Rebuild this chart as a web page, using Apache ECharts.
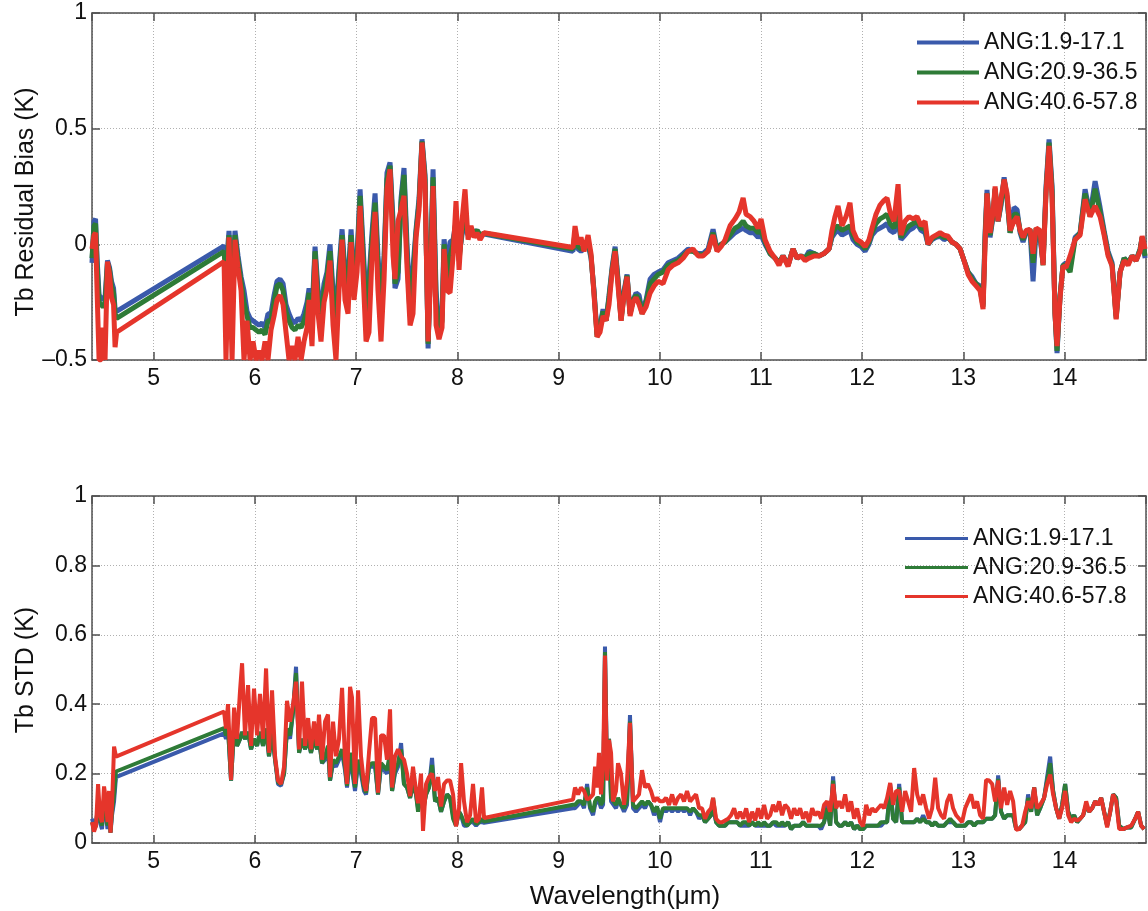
<!DOCTYPE html>
<html>
<head>
<meta charset="utf-8">
<script src="https://cdn.jsdelivr.net/npm/echarts@6/dist/echarts.min.js"></script>
<style>html,body{margin:0;padding:0;background:#fff}#c{width:1148px;height:911px}</style>
</head>
<body>
<div id="c"></div>
<script>
const seriesNames = ['ANG:1.9-17.1', 'ANG:20.9-36.5', 'ANG:40.6-57.8'];
const seriesColors = ['#3a5aab', '#2e7b37', '#e5352b'];
const topYLabel = 'Tb Residual Bias (K)';
const botYLabel = 'Tb STD (K)';
const xLabel = 'Wavelength(\u03bcm)';

// ---------- Top panel: Tb residual bias ----------
const topWl = [
4.390,4.410,4.425,4.440,4.460,4.480,4.499,4.519,4.543,4.563,4.583,4.603,4.618,4.633,
5.695,5.714,5.744,5.774,5.803,5.833,5.863,5.892,5.922,5.952,5.981,6.011,6.041,6.070,6.100,6.129,6.159,6.189,6.218,6.248,
6.278,6.307,6.337,6.367,6.396,6.426,6.456,6.485,6.515,6.535,6.564,6.594,6.624,6.653,6.683,6.712,6.742,6.772,6.801,6.831,
6.861,6.890,6.920,6.950,6.979,7.009,7.039,7.068,7.098,7.127,7.157,7.187,7.216,7.246,7.276,7.305,7.335,7.365,7.384,7.414,
7.444,7.473,7.503,7.533,7.562,7.592,7.622,7.651,7.681,7.711,7.740,7.760,7.790,7.819,7.849,7.869,7.898,7.928,7.958,7.987,
8.017,8.046,8.076,8.106,8.135,8.165,8.195,8.224,8.264,9.143,
9.163,9.193,9.222,9.252,9.292,9.321,9.351,9.381,9.410,9.440,9.470,9.499,9.529,9.559,9.588,9.618,9.648,9.677,9.707,9.737,
9.766,9.796,9.826,9.865,9.905,9.944,9.984,10.033,10.083,10.132,10.181,10.231,10.280,10.329,10.379,10.428,10.478,10.527,10.566,10.606,
10.646,10.695,10.744,10.784,10.824,10.853,10.893,10.932,10.972,11.001,11.041,11.090,11.140,11.179,11.218,11.268,11.317,11.357,11.396,11.436,
11.475,11.525,11.574,11.623,11.673,11.702,11.732,11.762,11.801,11.841,11.880,11.910,11.950,11.989,12.029,12.068,12.098,12.137,12.177,12.216,
12.246,12.276,12.315,12.355,12.384,12.424,12.463,12.503,12.542,12.582,12.622,12.651,12.691,12.730,12.770,12.809,12.849,12.888,12.928,12.968,
13.007,13.047,13.086,13.126,13.165,13.195,13.215,13.234,13.264,13.294,13.314,13.343,13.373,13.403,13.432,13.462,13.501,13.531,13.561,13.590,
13.620,13.659,13.689,13.719,13.758,13.788,13.817,13.847,13.877,13.906,13.926,13.956,13.985,14.015,14.055,14.104,14.154,14.203,14.252,14.302,
14.351,14.391,14.430,14.470,14.510,14.549,14.589,14.628,14.668,14.707,14.747,14.767,14.796
];
const topBlue = [
-0.08,0.10,0.11,-0.06,-0.22,-0.23,-0.24,-0.23,-0.07,-0.10,-0.16,-0.19,-0.28,-0.29,
-0.007,-0.10,0.058,-0.20,0.058,-0.05,-0.14,-0.20,-0.29,-0.32,-0.33,-0.34,-0.35,-0.34,-0.36,-0.30,-0.30,-0.22,-0.16,-0.15,
-0.17,-0.26,-0.30,-0.33,-0.34,-0.32,-0.33,-0.30,-0.25,-0.19,-0.30,-0.01,-0.20,-0.28,-0.17,-0.12,0.00,-0.20,-0.30,-0.10,
0.065,-0.12,-0.15,0.065,-0.15,-0.05,0.238,0.00,-0.25,-0.15,0.05,0.22,-0.05,-0.25,-0.05,0.31,0.354,0.10,-0.19,-0.15,
0.20,0.33,0.00,-0.28,-0.10,0.065,0.20,0.454,0.30,-0.45,0.00,0.324,-0.20,-0.38,-0.30,0.022,-0.10,0.01,0.02,0.10,
-0.05,0.04,0.10,0.04,0.07,0.05,0.06,0.04,0.045,-0.03,
0.04,-0.02,-0.03,-0.02,0.00,-0.06,-0.20,-0.39,-0.35,-0.28,-0.33,-0.22,-0.10,-0.01,-0.15,-0.32,-0.20,-0.13,-0.30,-0.24,
-0.21,-0.22,-0.29,-0.24,-0.15,-0.13,-0.12,-0.11,-0.08,-0.07,-0.06,-0.04,-0.02,-0.03,-0.04,-0.04,-0.02,0.065,-0.02,0.00,
0.01,0.03,0.05,0.06,0.07,0.06,0.05,0.05,0.03,0.04,0.00,-0.04,-0.06,-0.08,-0.05,-0.09,-0.02,-0.06,-0.05,-0.06,
-0.03,-0.04,-0.05,-0.04,-0.02,0.03,0.05,0.06,0.04,0.05,0.06,0.02,0.00,-0.01,-0.03,0.00,0.04,0.06,0.07,0.08,
0.09,0.06,0.05,0.10,0.02,0.04,0.06,0.07,0.09,0.06,0.05,0.00,0.02,0.03,0.035,0.02,0.03,0.01,0.00,-0.02,
-0.07,-0.12,-0.14,-0.17,-0.18,-0.26,0.05,0.235,0.03,0.12,0.24,0.10,0.17,0.29,0.20,0.05,0.16,0.15,0.05,0.01,
0.05,0.06,-0.16,0.06,0.03,-0.08,0.25,0.454,0.25,-0.30,-0.47,-0.22,-0.09,-0.08,-0.10,0.03,0.05,0.238,0.13,0.273,
0.16,0.06,-0.03,-0.08,-0.31,-0.12,-0.06,-0.08,-0.05,-0.07,-0.02,0.03,-0.06
];
const topGreen = [
-0.06,0.08,0.09,-0.09,-0.25,-0.26,-0.27,-0.26,-0.08,-0.11,-0.18,-0.21,-0.30,-0.32,
-0.03,-0.15,0.04,-0.25,0.04,-0.07,-0.16,-0.25,-0.31,-0.36,-0.36,-0.37,-0.38,-0.37,-0.39,-0.33,-0.33,-0.25,-0.18,-0.17,
-0.20,-0.29,-0.33,-0.36,-0.37,-0.35,-0.36,-0.33,-0.28,-0.21,-0.34,-0.03,-0.24,-0.32,-0.20,-0.14,-0.03,-0.24,-0.35,-0.13,
0.04,-0.15,-0.18,0.04,-0.18,-0.08,0.21,-0.04,-0.30,-0.20,0.02,0.18,-0.10,-0.30,-0.08,0.28,0.34,0.05,-0.17,-0.12,
0.18,0.30,-0.05,-0.31,-0.15,0.05,0.18,0.445,0.28,-0.43,-0.03,0.29,-0.25,-0.40,-0.33,0.00,-0.15,-0.05,0.00,0.10,
-0.07,0.06,0.12,0.04,0.07,0.05,0.06,0.04,0.048,-0.02,
0.05,-0.01,-0.02,-0.01,0.01,-0.05,-0.21,-0.40,-0.36,-0.29,-0.33,-0.23,-0.11,-0.02,-0.16,-0.33,-0.21,-0.135,-0.30,-0.24,
-0.22,-0.24,-0.30,-0.25,-0.17,-0.15,-0.13,-0.12,-0.09,-0.08,-0.07,-0.05,-0.03,-0.03,-0.045,-0.045,-0.03,0.05,-0.025,0.00,
0.01,0.04,0.07,0.08,0.10,0.08,0.07,0.07,0.05,0.06,0.01,-0.04,-0.06,-0.08,-0.05,-0.09,-0.02,-0.06,-0.05,-0.06,
-0.04,-0.04,-0.05,-0.04,-0.02,0.04,0.07,0.08,0.06,0.07,0.08,0.04,0.01,0.00,-0.02,0.01,0.05,0.09,0.11,0.12,
0.13,0.09,0.07,0.14,0.03,0.06,0.08,0.09,0.10,0.07,0.07,0.00,0.025,0.035,0.04,0.03,0.03,0.01,0.00,-0.02,
-0.07,-0.12,-0.15,-0.17,-0.19,-0.27,0.03,0.22,0.04,0.13,0.24,0.10,0.18,0.28,0.20,0.05,0.13,0.13,0.06,0.02,
0.055,0.065,-0.08,0.07,0.05,-0.09,0.23,0.44,0.23,-0.30,-0.46,-0.22,-0.09,-0.09,-0.12,0.02,0.05,0.22,0.12,0.24,
0.14,0.05,-0.04,-0.09,-0.32,-0.12,-0.06,-0.08,-0.05,-0.07,-0.02,0.03,-0.05
];
const topRed = [
-0.02,0.04,0.05,-0.20,-0.50,-0.50,-0.36,-0.50,-0.075,-0.13,-0.23,-0.26,-0.445,-0.38,
-0.075,-0.50,0.03,-0.50,0.02,-0.10,-0.20,-0.50,-0.33,-0.50,-0.42,-0.50,-0.46,-0.50,-0.42,-0.50,-0.37,-0.31,-0.24,-0.22,
-0.26,-0.38,-0.50,-0.44,-0.50,-0.40,-0.50,-0.42,-0.36,-0.24,-0.44,-0.065,-0.30,-0.42,-0.25,-0.19,-0.07,-0.35,-0.50,-0.20,
0.02,-0.24,-0.30,0.01,-0.24,-0.12,0.166,-0.12,-0.42,-0.38,-0.05,0.14,-0.20,-0.42,-0.15,0.24,0.324,-0.05,-0.15,0.10,
0.15,0.21,-0.10,-0.35,-0.30,0.03,0.15,0.44,0.25,-0.42,-0.10,0.252,-0.35,-0.41,-0.36,-0.02,-0.20,-0.21,-0.05,0.187,
-0.11,0.10,0.238,0.02,0.08,0.03,0.05,0.02,0.05,-0.014,
0.079,0.00,0.03,-0.03,0.04,-0.04,-0.22,-0.40,-0.38,-0.31,-0.33,-0.26,-0.12,-0.03,-0.18,-0.33,-0.22,-0.14,-0.31,-0.25,
-0.23,-0.26,-0.30,-0.27,-0.21,-0.18,-0.16,-0.17,-0.11,-0.09,-0.08,-0.06,-0.03,-0.02,-0.05,-0.05,-0.03,0.04,-0.03,-0.01,
0.02,0.08,0.11,0.14,0.20,0.13,0.12,0.10,0.07,0.11,0.02,-0.03,-0.06,-0.09,-0.05,-0.095,-0.02,-0.06,-0.05,-0.07,
-0.06,-0.05,-0.05,-0.04,-0.02,0.06,0.12,0.166,0.08,0.12,0.18,0.06,0.02,0.01,-0.01,0.02,0.07,0.13,0.17,0.19,
0.20,0.14,0.10,0.26,0.04,0.10,0.12,0.11,0.12,0.08,0.10,0.00,0.03,0.04,0.05,0.04,0.035,0.01,0.00,-0.02,
-0.07,-0.13,-0.16,-0.18,-0.20,-0.28,0.00,0.22,0.05,0.14,0.25,0.10,0.20,0.28,0.22,0.06,0.10,0.12,0.06,0.03,
0.06,0.065,-0.04,0.07,0.06,-0.09,0.22,0.425,0.20,-0.30,-0.44,-0.23,-0.094,-0.10,-0.05,0.02,0.04,0.195,0.12,0.166,
0.12,0.04,-0.05,-0.094,-0.324,-0.12,-0.07,-0.09,-0.05,-0.07,-0.03,0.036,-0.02
];

// ---------- Bottom panel: Tb STD ----------
const botWl = [
4.390,4.410,4.430,4.450,4.469,4.489,4.509,4.529,4.543,4.558,4.573,4.588,4.608,4.627,
5.695,5.714,5.734,5.764,5.794,5.823,5.853,5.873,5.902,5.932,5.962,5.991,6.021,6.050,6.080,6.110,6.139,6.169,6.199,6.228,
6.258,6.288,6.317,6.347,6.377,6.406,6.436,6.465,6.495,6.525,6.554,6.584,6.614,6.633,6.663,6.693,6.722,6.742,6.772,6.801,
6.831,6.861,6.890,6.910,6.940,6.959,6.989,7.019,7.048,7.078,7.098,7.127,7.157,7.187,7.216,7.246,7.276,7.305,7.335,7.355,
7.384,7.414,7.444,7.473,7.503,7.533,7.562,7.592,7.612,7.641,7.661,7.691,7.720,7.750,7.780,7.809,7.839,7.869,7.898,7.928,
7.958,7.987,8.017,8.037,8.066,8.096,8.126,8.155,8.185,8.215,8.244,8.264,9.143,
9.163,9.193,9.222,9.252,9.282,9.311,9.341,9.361,9.380,9.400,9.420,9.440,9.459,9.479,9.499,9.519,9.538,9.568,9.588,9.617,
9.647,9.677,9.706,9.736,9.766,9.795,9.825,9.855,9.884,9.914,9.944,9.973,10.003,10.033,10.062,10.092,10.122,10.151,10.181,10.211,
10.240,10.270,10.300,10.329,10.359,10.389,10.418,10.448,10.478,10.507,10.527,10.557,10.587,10.616,10.646,10.676,10.705,10.735,10.765,10.794,
10.824,10.854,10.883,10.913,10.943,10.972,11.002,11.031,11.061,11.091,11.120,11.150,11.180,11.209,11.239,11.269,11.298,11.328,11.358,11.387,
11.417,11.447,11.476,11.506,11.535,11.565,11.595,11.624,11.654,11.684,11.713,11.743,11.773,11.802,11.832,11.862,11.891,11.921,11.951,11.980,
12.010,12.040,12.069,12.099,12.129,12.158,12.188,12.217,12.247,12.277,12.306,12.336,12.366,12.395,12.425,12.455,12.484,12.514,12.544,12.573,
12.603,12.633,12.662,12.692,12.722,12.751,12.781,12.810,12.840,12.870,12.899,12.929,12.959,12.988,13.018,13.047,13.077,13.107,13.136,13.166,
13.196,13.225,13.255,13.285,13.314,13.344,13.373,13.403,13.433,13.462,13.492,13.522,13.551,13.581,13.611,13.640,13.670,13.700,13.729,13.759,
13.798,13.828,13.858,13.887,13.917,13.947,13.976,14.006,14.036,14.065,14.095,14.125,14.154,14.184,14.214,14.243,14.273,14.303,14.332,14.362,
14.391,14.421,14.451,14.480,14.510,14.540,14.579,14.619,14.658,14.698,14.727,14.757,14.787
];
const botBlue = [
0.07,0.05,0.06,0.10,0.06,0.04,0.12,0.08,0.04,0.10,0.03,0.08,0.12,0.19,
0.316,0.30,0.33,0.18,0.33,0.28,0.30,0.32,0.30,0.32,0.27,0.30,0.28,0.32,0.28,0.33,0.25,0.32,0.24,0.17,
0.165,0.20,0.33,0.30,0.38,0.508,0.26,0.30,0.27,0.30,0.26,0.30,0.27,0.30,0.23,0.24,0.27,0.18,0.23,0.22,
0.24,0.26,0.21,0.16,0.25,0.25,0.15,0.23,0.20,0.15,0.14,0.22,0.22,0.22,0.14,0.22,0.21,0.20,0.25,0.15,
0.20,0.22,0.288,0.17,0.16,0.13,0.17,0.14,0.10,0.16,0.10,0.14,0.16,0.245,0.12,0.13,0.09,0.12,0.14,0.13,
0.08,0.05,0.09,0.08,0.05,0.05,0.06,0.06,0.05,0.06,0.06,0.058,0.10,
0.10,0.11,0.12,0.10,0.17,0.10,0.08,0.11,0.12,0.12,0.10,0.11,0.566,0.20,0.30,0.12,0.12,0.10,0.12,0.11,
0.09,0.11,0.369,0.10,0.09,0.10,0.11,0.10,0.12,0.11,0.08,0.10,0.06,0.10,0.09,0.10,0.09,0.10,0.09,0.10,
0.09,0.10,0.08,0.10,0.09,0.07,0.08,0.06,0.07,0.08,0.10,0.06,0.05,0.05,0.05,0.06,0.06,0.06,0.06,0.05,
0.05,0.05,0.05,0.06,0.05,0.05,0.05,0.05,0.05,0.05,0.06,0.05,0.05,0.05,0.05,0.06,0.04,0.05,0.05,0.05,
0.06,0.05,0.05,0.05,0.05,0.05,0.04,0.06,0.11,0.05,0.192,0.06,0.05,0.05,0.06,0.05,0.06,0.04,0.05,0.04,
0.04,0.05,0.05,0.05,0.05,0.05,0.05,0.06,0.06,0.17,0.07,0.06,0.17,0.06,0.06,0.06,0.06,0.06,0.07,0.06,
0.08,0.06,0.06,0.05,0.06,0.05,0.05,0.05,0.06,0.06,0.06,0.05,0.05,0.05,0.05,0.06,0.06,0.05,0.06,0.06,
0.06,0.07,0.07,0.07,0.08,0.195,0.09,0.07,0.08,0.08,0.08,0.04,0.04,0.05,0.06,0.14,0.09,0.16,0.08,0.10,
0.13,0.19,0.249,0.15,0.10,0.07,0.11,0.17,0.09,0.07,0.08,0.06,0.07,0.08,0.11,0.09,0.10,0.12,0.11,0.13,
0.09,0.05,0.09,0.14,0.13,0.05,0.04,0.045,0.045,0.07,0.09,0.05,0.04
];
const botGreen = [
0.06,0.04,0.05,0.12,0.07,0.05,0.13,0.09,0.05,0.11,0.03,0.09,0.14,0.206,
0.331,0.31,0.33,0.18,0.33,0.28,0.30,0.32,0.30,0.32,0.27,0.30,0.28,0.32,0.28,0.33,0.25,0.32,0.24,0.175,
0.17,0.20,0.33,0.31,0.38,0.49,0.26,0.30,0.27,0.30,0.26,0.30,0.27,0.30,0.23,0.25,0.28,0.18,0.24,0.23,
0.25,0.27,0.22,0.165,0.26,0.26,0.16,0.24,0.21,0.16,0.145,0.22,0.23,0.23,0.14,0.23,0.22,0.21,0.26,0.15,
0.21,0.23,0.27,0.17,0.16,0.13,0.17,0.14,0.09,0.16,0.09,0.14,0.16,0.225,0.12,0.13,0.09,0.12,0.14,0.13,
0.07,0.05,0.09,0.08,0.06,0.05,0.06,0.07,0.055,0.06,0.07,0.062,0.11,
0.11,0.12,0.12,0.11,0.16,0.105,0.09,0.12,0.13,0.13,0.11,0.12,0.55,0.19,0.30,0.13,0.13,0.11,0.13,0.11,
0.10,0.12,0.35,0.11,0.10,0.11,0.12,0.11,0.12,0.11,0.09,0.105,0.07,0.10,0.10,0.10,0.10,0.10,0.10,0.10,
0.10,0.10,0.09,0.10,0.09,0.08,0.08,0.06,0.07,0.08,0.13,0.06,0.05,0.05,0.05,0.06,0.06,0.06,0.06,0.05,
0.06,0.06,0.05,0.06,0.05,0.06,0.05,0.06,0.05,0.05,0.06,0.06,0.05,0.06,0.05,0.06,0.04,0.05,0.05,0.05,
0.06,0.05,0.05,0.05,0.05,0.05,0.05,0.06,0.10,0.05,0.18,0.06,0.05,0.05,0.06,0.05,0.06,0.04,0.05,0.04,
0.04,0.05,0.05,0.05,0.05,0.05,0.06,0.06,0.06,0.16,0.07,0.06,0.16,0.06,0.06,0.06,0.06,0.06,0.07,0.06,
0.07,0.06,0.06,0.05,0.06,0.05,0.05,0.05,0.06,0.07,0.06,0.05,0.05,0.05,0.05,0.06,0.06,0.05,0.06,0.06,
0.06,0.07,0.07,0.07,0.08,0.185,0.09,0.07,0.08,0.08,0.08,0.04,0.04,0.05,0.06,0.13,0.09,0.16,0.08,0.10,
0.13,0.18,0.23,0.15,0.10,0.07,0.11,0.17,0.09,0.07,0.08,0.06,0.07,0.08,0.11,0.09,0.10,0.12,0.11,0.13,
0.09,0.05,0.09,0.14,0.13,0.05,0.04,0.045,0.045,0.07,0.09,0.05,0.04
];
const botRed = [
0.06,0.033,0.05,0.17,0.08,0.06,0.163,0.12,0.06,0.15,0.03,0.11,0.278,0.249,
0.379,0.33,0.40,0.182,0.39,0.30,0.44,0.518,0.31,0.455,0.28,0.445,0.31,0.43,0.30,0.503,0.26,0.44,0.25,0.18,
0.17,0.22,0.41,0.35,0.40,0.465,0.27,0.465,0.28,0.36,0.27,0.35,0.28,0.37,0.24,0.35,0.37,0.19,0.35,0.25,
0.30,0.447,0.24,0.17,0.45,0.42,0.17,0.44,0.25,0.17,0.15,0.26,0.36,0.36,0.145,0.31,0.31,0.24,0.385,0.16,
0.25,0.27,0.25,0.24,0.20,0.135,0.22,0.15,0.115,0.20,0.035,0.17,0.19,0.20,0.15,0.19,0.105,0.17,0.18,0.18,
0.14,0.048,0.10,0.23,0.12,0.06,0.08,0.17,0.06,0.07,0.16,0.072,0.125,
0.16,0.14,0.16,0.15,0.125,0.13,0.14,0.22,0.16,0.26,0.14,0.22,0.54,0.18,0.297,0.26,0.12,0.15,0.23,0.20,
0.11,0.18,0.346,0.12,0.13,0.14,0.21,0.16,0.17,0.15,0.12,0.13,0.12,0.12,0.13,0.11,0.14,0.11,0.13,0.14,
0.12,0.15,0.12,0.13,0.14,0.10,0.10,0.07,0.09,0.10,0.13,0.07,0.06,0.06,0.065,0.07,0.08,0.10,0.07,0.09,
0.07,0.10,0.06,0.09,0.065,0.10,0.07,0.11,0.07,0.08,0.11,0.09,0.12,0.08,0.11,0.10,0.07,0.10,0.08,0.10,
0.07,0.09,0.06,0.10,0.08,0.09,0.07,0.11,0.12,0.09,0.17,0.10,0.12,0.10,0.14,0.09,0.12,0.07,0.10,0.06,
0.048,0.11,0.08,0.10,0.09,0.10,0.11,0.10,0.13,0.173,0.11,0.15,0.15,0.09,0.15,0.12,0.09,0.216,0.14,0.11,
0.14,0.10,0.07,0.10,0.188,0.10,0.08,0.07,0.12,0.14,0.10,0.08,0.07,0.06,0.10,0.12,0.14,0.10,0.12,0.08,
0.07,0.182,0.18,0.17,0.12,0.18,0.10,0.16,0.11,0.15,0.12,0.038,0.04,0.05,0.09,0.12,0.10,0.16,0.10,0.11,
0.13,0.17,0.197,0.14,0.10,0.07,0.10,0.15,0.08,0.06,0.07,0.065,0.07,0.08,0.12,0.09,0.10,0.12,0.11,0.13,
0.09,0.045,0.09,0.14,0.12,0.04,0.04,0.045,0.05,0.07,0.09,0.05,0.04
];

const X_MIN = 4.39, X_MAX = 14.805;
const FONT = '"Liberation Sans", Arial, Helvetica, sans-serif';
const AX = '#505050';

function pairs(xs, ys) { return xs.map((x, i) => [x, ys[i]]); }

function xAxisMain(gi) {
  return {
    type: 'value', gridIndex: gi, min: X_MIN, max: X_MAX, splitNumber: 10, position: 'bottom',
    axisLine: { show: true, onZero: false, lineStyle: { color: AX, width: 1.5 } },
    axisTick: { show: true, inside: true, length: 8, lineStyle: { color: AX, width: 1.5 } },
    axisLabel: { show: true, showMinLabel: false, showMaxLabel: false, fontSize: 23, color: '#111', fontFamily: FONT, margin: 7 },
    splitLine: { show: true, lineStyle: { type: [1, 2], color: '#b0b0b0', width: 1 } }
  };
}
function xAxisMirror(gi) {
  return {
    type: 'value', gridIndex: gi, min: X_MIN, max: X_MAX, splitNumber: 10, position: 'top',
    axisLine: { show: true, onZero: false, lineStyle: { color: AX, width: 1.5 } },
    axisTick: { show: true, inside: true, length: 8, lineStyle: { color: AX, width: 1.5 } },
    axisLabel: { show: false }, splitLine: { show: false }
  };
}
function yAxisMain(gi, min, max, interval, fmt) {
  return {
    type: 'value', gridIndex: gi, min: min, max: max, interval: interval, position: 'left',
    axisLine: { show: true, onZero: false, lineStyle: { color: AX, width: 1.5 } },
    axisTick: { show: true, inside: true, length: 8, lineStyle: { color: AX, width: 1.5 } },
    axisLabel: { show: true, fontSize: 23, color: '#111', fontFamily: FONT, margin: 5, formatter: fmt },
    splitLine: { show: true, lineStyle: { type: [1, 2], color: '#b0b0b0', width: 1 } }
  };
}
function yAxisMirror(gi, min, max, interval) {
  return {
    type: 'value', gridIndex: gi, min: min, max: max, interval: interval, position: 'right',
    axisLine: { show: true, onZero: false, lineStyle: { color: AX, width: 1.5 } },
    axisTick: { show: true, inside: true, length: 8, lineStyle: { color: AX, width: 1.5 } },
    axisLabel: { show: false }, splitLine: { show: false }
  };
}

const fmtTop = v => (v < 0 ? '\u2013' + Math.abs(v) : String(v));
const fmtBot = v => String(Math.round(v * 10) / 10);

const series = [];
[[topBlue, topGreen, topRed], [botBlue, botGreen, botRed]].forEach((set, gi) => {
  const xs = gi === 0 ? topWl : botWl;
  set.forEach((ys, si) => {
    series.push({
      type: 'line', name: seriesNames[si], xAxisIndex: gi, yAxisIndex: gi,
      data: pairs(xs, ys), symbol: 'none', showSymbol: false, animation: false,
      lineStyle: { color: seriesColors[si], width: gi === 0 ? 5 : 4, join: 'bevel' },
      itemStyle: { color: seriesColors[si] }, z: 2 + si
    });
  });
});

function legendData(h) {
  return seriesNames.map((n, i) => ({ name: n, icon: 'rect', itemStyle: { color: seriesColors[i] } }));
}

const chart = echarts.init(document.getElementById('c'), null, { renderer: 'canvas' });
chart.setOption({
  animation: false,
  backgroundColor: '#ffffff',
  grid: [
    { left: 92, top: 13, width: 1054, height: 347 },
    { left: 92, top: 496, width: 1054, height: 347 }
  ],
  xAxis: [xAxisMain(0), xAxisMain(1), xAxisMirror(0), xAxisMirror(1)],
  yAxis: [yAxisMain(0, -0.5, 1, 0.5, fmtTop), yAxisMain(1, 0, 1, 0.2, fmtBot), yAxisMirror(0, -0.5, 1, 0.5), yAxisMirror(1, 0, 1, 0.2)],
  legend: [
    { orient: 'vertical', left: 912, top: 26, itemWidth: 62, itemHeight: 4, itemGap: 7, selectedMode: false,
      data: legendData(), textStyle: { fontSize: 23, color: '#111', fontFamily: FONT } },
    { orient: 'vertical', left: 900, top: 522, itemWidth: 63, itemHeight: 3, itemGap: 6, selectedMode: false,
      data: legendData(), textStyle: { fontSize: 23, color: '#111', fontFamily: FONT } }
  ],
  graphic: [
    { type: 'text', x: 26, y: 202, rotation: Math.PI / 2,
      style: { text: topYLabel, fontSize: 25, fontFamily: FONT, fill: '#111', align: 'center', verticalAlign: 'middle' } },
    { type: 'text', x: 26, y: 670, rotation: Math.PI / 2,
      style: { text: botYLabel, fontSize: 25, fontFamily: FONT, fill: '#111', align: 'center', verticalAlign: 'middle' } },
    { type: 'text', x: 625, y: 897,
      style: { text: xLabel, fontSize: 26, fontFamily: FONT, fill: '#111', align: 'center', verticalAlign: 'middle' } }
  ],
  series: series
});
</script>
</body>
</html>
